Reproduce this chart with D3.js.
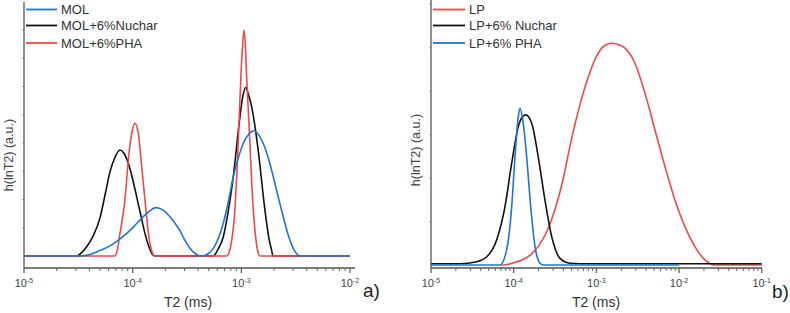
<!DOCTYPE html>
<html><head><meta charset="utf-8">
<script src="https://cdn.jsdelivr.net/npm/d3@7"></script>
<style>
html,body{margin:0;padding:0;background:#fff;}
svg{display:block;font-family:"Liberation Sans",Arial,sans-serif;}
</style></head>
<body><svg id="c" width="790" height="313"></svg>
<script>
// ---------- DATA (x = log10 T2 [ms], y = h(lnT2) a.u.) ----------
// Panel a)
const molX = [-5,-4.5,-4.423,-4.362,-4.30,-4.209,-4.13,-4.055,-3.99,-3.933,-3.86,-3.786,-3.72,-3.657,-3.61,-3.565,-3.52,-3.473,-3.42,-3.365,-3.31,-3.258,-3.21,-3.166,-3.12,-3.074,-3.03,-2.982,-2.93,-2.884,-2.84,-2.799,-2.75,-2.706,-2.66,-2.614,-2.57,-2.522,-2.49,-2.461,-2];
const molY = [0,0,0.3,1.2,2.5,4.5,7,10,13,15.9,19.3,21.4,20.3,17.4,14.5,11.2,7,3.4,0.9,0,0.9,3.4,8,14.5,24,35.1,43,49.9,54,55.4,53.5,49.9,43,35.1,26,17.4,9.5,3.4,1,0,0];
const molNucharX = [-5,-4.515,-4.47,-4.423,-4.362,-4.30,-4.25,-4.21,-4.16,-4.117,-4.08,-4.04,-4.0,-3.963,-3.92,-3.887,-3.85,-3.825,-3.795,-3.258,-3.22,-3.166,-3.12,-3.074,-3.013,-2.985,-2.96,-2.935,-2.905,-2.845,-2.783,-2.745,-2.721,-2.709,-2];
const molNucharY = [0,0,1.5,4.1,9,17,28,37,44,46.9,45.5,41,34,26.2,17,10,4,1.2,0,0,2.5,8.5,20,35.1,61.6,71,74.6,71.5,66.1,46.9,20.4,7.5,2.5,0,0];
const molPhaX = [-5,-4.163,-4.14,-4.117,-4.09,-4.071,-4.04,-4.009,-3.979,-3.948,-3.917,-3.878,-3.86,-3.841,-3.815,-3.80,-3.135,-3.11,-3.085,-3.059,-3.045,-3.029,-3.004,-2.99,-2.976,-2.963,-2.951,-2.921,-2.905,-2.89,-2.865,-2.845,-2.829,-2];
const molPhaY = [0,0,3,10,18,25,42.5,54.3,58.7,54.3,39.5,20.4,12,5.6,1,0,0,2,8,20.4,33,49.9,79.3,92,100,93,79.3,49.9,33,20.4,7,1.5,0,0];
// Panel b)
const lpX = [-4.15,-4.129,-4.0,-3.9,-3.8,-3.7,-3.6,-3.5,-3.4,-3.3,-3.2,-3.1,-3.0,-2.9,-2.808,-2.73,-2.654,-2.533,-2.412,-2.291,-2.17,-2.05,-1.929,-1.808,-1.687,-1.566,-1];
const lpY = [0,0,1,2.3,4.5,8.5,15,25,39,57,72,84.5,94,99,100,99.3,97.8,91,77.5,60.9,44.4,29.3,17.3,8.3,2.3,0,0];
const lpNucharX = [-5,-4.649,-4.447,-4.326,-4.206,-4.105,-4.024,-3.944,-3.9,-3.855,-3.782,-3.703,-3.622,-3.54,-3.44,-3.319,-3.198,-1];
const lpNucharY = [0.6,0.6,1.5,3.7,11.3,26.3,45.9,62.4,66.5,67.7,63.9,48.8,29.3,12.8,3,0.8,0.6,0.6];
const lpPhaX = [-5,-4.166,-4.085,-4.024,-3.984,-3.944,-3.924,-3.884,-3.843,-3.794,-3.742,-3.682,-3.642,-2];
const lpPhaY = [0,0,6.8,26.3,48.8,66.9,70.7,63.9,48.8,26.3,8.3,0.8,0,0];

const panelA = {
  majors:[-5,-4,-3,-2], yDom:[-5.3,112.4], yTickStep:12.5,
  series:[
    {name:"MOL", x:molX, y:molY, color:"#1f74d4"},
    {name:"MOL+6%Nuchar", x:molNucharX, y:molNucharY, color:"#111111"},
    {name:"MOL+6%PHA", x:molPhaX, y:molPhaY, color:"#f2474a"}
  ],
  drawOrder:[1,2,0], tag:"a)"
};
const panelB = {
  majors:[-5,-4,-3,-2,-1], yDom:[-1.35,119.5], yTickStep:19.6,
  series:[
    {name:"LP", x:lpX, y:lpY, color:"#f2474a"},
    {name:"LP+6% Nuchar", x:lpNucharX, y:lpNucharY, color:"#111111"},
    {name:"LP+6% PHA", x:lpPhaX, y:lpPhaY, color:"#1f74d4"}
  ],
  drawOrder:[0,1,2], tag:"b)"
};

const svg = d3.select("#c");

function drawPanel(p, L){
  const g = svg.append("g");
  const x = d3.scaleLog().domain([Math.pow(10,p.majors[0]), Math.pow(10,p.majors[p.majors.length-1])]).range([L.x0, L.x1]);
  const y = d3.scaleLinear().domain(p.yDom).range([L.yAxis, L.yTop]);

  for(let v=p.yTickStep; v<p.yDom[1]; v+=p.yTickStep){
    g.append("line").attr("x1",L.x0-2).attr("x2",L.x0).attr("y1",y(v)).attr("y2",y(v))
      .attr("stroke","#999").attr("stroke-width",0.8);
  }
  const line = d3.line().x(d=>x(Math.pow(10,d[0]))).y(d=>y(d[1])).curve(d3.curveMonotoneX);
  p.drawOrder.forEach(i=>{
    const s = p.series[i];
    const pts = s.x.map((v,k)=>[v,s.y[k]]);
    g.append("path").attr("d",line(pts)).attr("fill","none").attr("stroke",s.color)
      .attr("stroke-width",1.6).attr("stroke-linejoin","round");
  });

  g.append("line").attr("x1",L.x0).attr("x2",L.x0).attr("y1",L.yTop).attr("y2",L.yAxis)
    .attr("stroke","#555").attr("stroke-width",1.3);
  g.append("line").attr("x1",L.x0).attr("x2",L.xEnd).attr("y1",L.yAxis).attr("y2",L.yAxis)
    .attr("stroke","#555").attr("stroke-width",1.3);

  x.ticks().forEach(t=>{
    const lg = Math.log10(t);
    const major = Math.abs(lg-Math.round(lg))<1e-6;
    g.append("line").attr("x1",x(t)).attr("x2",x(t)).attr("y1",L.yAxis).attr("y2",L.yAxis+(major?5:3))
      .attr("stroke","#555").attr("stroke-width",major?1.2:0.9);
  });
  p.majors.forEach(e=>{
    const t = g.append("text").attr("x",x(Math.pow(10,e))).attr("y",L.yAxis+19)
      .attr("text-anchor","middle").attr("fill","#444").attr("font-size",11);
    t.append("tspan").text("10");
    t.append("tspan").text("-"+Math.abs(e)).attr("font-size",7).attr("dy",-4.5);
  });

  g.append("text").attr("x",L.xLabel).attr("y",307).attr("text-anchor","middle")
    .attr("fill","#333").attr("font-size",14).text("T2 (ms)");
  g.append("text").attr("transform",`translate(${L.yLabelX},${L.yLabelY}) rotate(-90)`)
    .attr("text-anchor","middle").attr("fill","#444").attr("font-size",12.5).text("h(lnT2) (a.u.)");
  g.append("text").attr("x",L.tagX).attr("y",L.tagY).attr("fill","#222").attr("font-size",19).text(p.tag);

  const rows=[9.5,25.5,43];
  p.series.forEach((s,i)=>{
    g.append("line").attr("x1",L.legX0).attr("x2",L.legX1).attr("y1",rows[i]).attr("y2",rows[i])
      .attr("stroke",s.color).attr("stroke-width",1.8);
    g.append("text").attr("x",L.legX1+4).attr("y",rows[i]+4.6).attr("fill","#333")
      .attr("font-size",13).text(s.name);
  });
}

drawPanel(panelA,{x0:24,x1:350,xEnd:355,yTop:2,yAxis:268,xLabel:188,yLabelX:12.5,yLabelY:155,tagX:363,tagY:297,legX0:26,legX1:57});
drawPanel(panelB,{x0:431,x1:761.7,xEnd:762,yTop:0,yAxis:268,xLabel:596,yLabelX:419.5,yLabelY:150,tagX:772,tagY:298,legX0:433,legX1:465});
</script></body></html>
